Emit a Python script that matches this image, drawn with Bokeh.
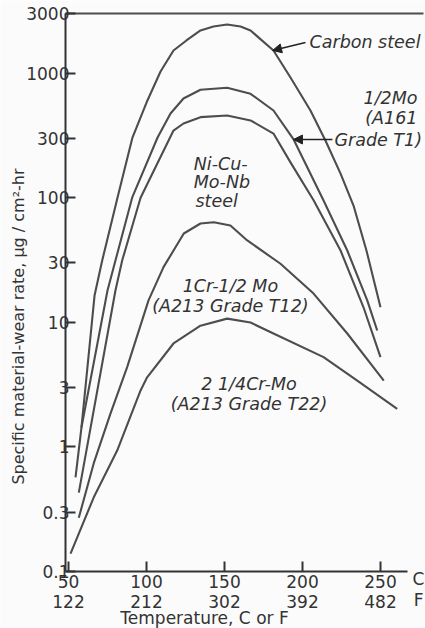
import math
from bokeh.plotting import figure
from bokeh.models import FixedTicker, Label, Arrow, NormalHead, LinearAxis
from bokeh.embed import file_html
from bokeh.resources import INLINE

# ---- data (temperature in C, wear rate in ug/cm2-hr) ----
carbon_t = [54.5, 58.3, 66.7, 71.6, 81.4, 91.0, 100.6, 109.0, 117.3, 125.6, 134.6, 142.9,
            151.7, 160.3, 166.7, 181.4, 192.3, 205.1, 214.7, 224.4, 232.7, 241.0, 250.0]
carbon_r = [0.57, 1.43, 16.4, 31.3, 100, 304, 603, 1030, 1517, 1828, 2198, 2366,
            2455, 2366, 2198, 1517, 922, 501, 288, 156, 86.5, 37.7, 13.2]

mo_t = [58.3, 75.0, 80.1, 90.8, 107.1, 115.4, 123.7, 134.6, 151.7, 166.7, 181.4, 194.4,
        213.5, 228.7, 241.5, 247.9]
mo_r = [1.43, 18.0, 31.3, 100, 304, 474, 625, 735, 762, 682, 501, 292,
        95, 37.7, 15.0, 8.6]

ni_t = [56.6, 80.1, 84.4, 96.2, 117.3, 123.7, 134.6, 151.7, 166.7, 181.4, 192.3, 207.2,
        224.4, 239.1, 250.0]
ni_r = [0.43, 18.0, 31.3, 100, 346, 394, 443, 457, 417, 327, 192, 95,
        37.7, 13.2, 5.25]

t12_t = [56.6, 66.2, 76.9, 87.6, 101.3, 110.9, 123.9, 134.6, 143.1, 153.8, 164.6, 185.9,
         207.1, 228.7, 252.1]
t12_r = [0.27, 0.74, 1.85, 4.37, 15.0, 27.7, 51.6, 62.1, 63.5, 59.8, 45.4, 29.5,
         17.0, 8.13, 3.41]

t22_t = [51.3, 66.2, 81.2, 96.2, 100.4, 117.3, 134.6, 151.7, 166.7, 181.4, 213.5, 235.1, 260.7]
t22_r = [0.139, 0.394, 0.935, 2.84, 3.62, 6.76, 9.4, 10.7, 9.95, 8.13, 5.25, 3.41, 2.02]

x_ticks_c = [50, 100, 150, 200, 250]
x_ticks_f = ["122", "212", "302", "392", "482"]
y_ticks = [0.1, 0.3, 1, 3, 10, 30, 100, 300, 1000, 3000]
y_tick_labels = ["0.1", "0.3", "1", "3", "10", "30", "100", "300", "1000", "3000"]

FONT = "DejaVu Sans"
INK = "#333333"
LINE = "#4d4d4d"
BG = "#fbfbfb"

# frame covers the whole canvas; axes are pinned inside it
X0, X1 = 6.41, 278.85
Y0, Y1 = 0.03488, 3825
p = figure(width=425, height=628, x_range=(X0, X1), y_range=(Y0, Y1),
           y_axis_type="log", output_backend="svg", toolbar_location=None,
           min_border=0)
p.title.visible = False
p.outline_line_color = None
p.background_fill_color = BG
p.border_fill_color = BG
p.xgrid.visible = False
p.ygrid.visible = False

AX_LEFT = 48.08

for ax in (p.xaxis, p.yaxis):
    ax.axis_line_color = INK
    ax.axis_line_width = 2
    ax.major_tick_in = 10
    ax.major_tick_out = 0
    ax.major_tick_line_color = INK
    ax.major_tick_line_width = 2
    ax.minor_tick_line_color = None
    ax.major_label_text_font = FONT
    ax.major_label_text_font_size = "17px"
    ax.major_label_text_color = INK

xa = p.xaxis[0]
xa.fixed_location = 0.1
xa.bounds = (AX_LEFT, 267.3)
xa.ticker = FixedTicker(ticks=x_ticks_c)
xa.major_label_overrides = {c: f"{c}\n{f}" for c, f in zip(x_ticks_c, x_ticks_f)}
xa.major_label_standoff = 0
xa.major_label_text_line_height = 1.0

ya = p.yaxis[0]
ya.fixed_location = AX_LEFT
ya.bounds = (0.1, 3000)
ya.ticker = FixedTicker(ticks=y_ticks)
ya.major_label_overrides = {v: s for v, s in zip(y_ticks, y_tick_labels)}
ya.major_label_standoff = -4

top = LinearAxis(fixed_location=3000, bounds=(AX_LEFT, 277.6), axis_line_color=LINE,
                 axis_line_width=2, major_tick_line_color=None, minor_tick_line_color=None,
                 major_label_text_font_size="0px", ticker=FixedTicker(ticks=[]))
p.add_layout(top, "above")

for t, r in [(carbon_t, carbon_r), (mo_t, mo_r), (ni_t, ni_r), (t12_t, t12_r), (t22_t, t22_r)]:
    p.line(t, r, line_color=LINE, line_width=2.1, line_join="round")


def lab(text, x, y, align="left", baseline="middle", style="italic", size="17.5px", angle=0):
    p.add_layout(Label(x=x, y=y, text=text, text_align=align, text_baseline=baseline,
                       text_font=FONT, text_font_style=style, text_font_size=size,
                       text_color=INK, angle=angle))


lab("Carbon steel", 204.5, 1761)
lab("1/2Mo", 273.7, 637, align="right")
lab("(A161", 273.7, 440, align="right")
lab("Grade T1)", 276.6, 293, align="right")
lab("Ni-Cu-", 130.3, 188)
lab("Mo-Nb", 130.3, 133)
lab("steel", 131.4, 93.7)
lab("1Cr-1/2 Mo", 153.8, 19.4, align="center")
lab("(A213 Grade T12)", 153.8, 13.4, align="center")
lab("2 1/4Cr-Mo", 165.7, 3.21, align="center")
lab("(A213 Grade T22)", 165.7, 2.19, align="center")

lab("C", 274.4, 0.0863, align="center", style="normal", size="17px")
lab("F", 274.4, 0.0596, align="center", style="normal", size="17px")
lab("Temperature, C or F", 137.2, 0.04196, align="center", style="normal", size="17px")
lab("Specific material-wear rate, \u03bcg / cm\u00b2-hr", 17.95, 9.25, align="center",
    style="normal", size="16px", angle=math.pi / 2)

head = dict(size=9, fill_color="#222222", line_color="#222222")
p.add_layout(Arrow(end=NormalHead(**head), x_start=201.9, y_start=1761, x_end=180.8, y_end=1518,
                   line_color="#222222", line_width=1.5))
p.add_layout(Arrow(end=NormalHead(**head), x_start=219.2, y_start=293, x_end=194.2, y_end=293,
                   line_color="#222222", line_width=1.5))

open("out.html", "w").write(file_html(p, INLINE))
